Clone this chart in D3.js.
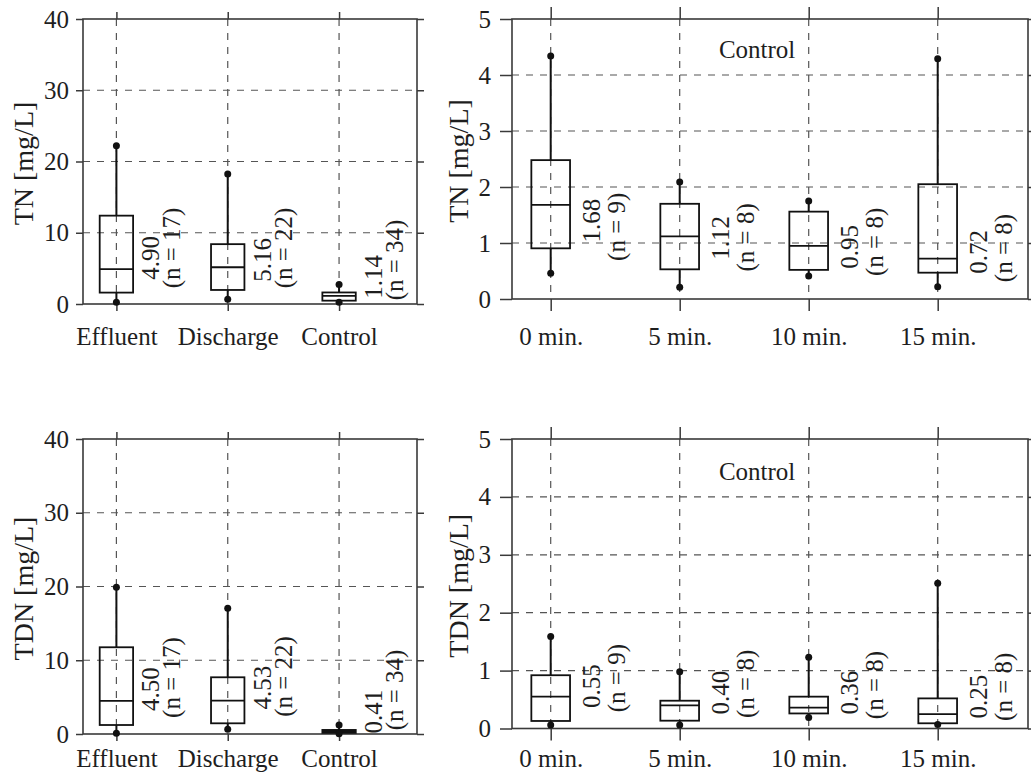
<!DOCTYPE html>
<html>
<head>
<meta charset="utf-8">
<script src="https://cdn.jsdelivr.net/npm/d3@7"></script>
<style>
  html, body { margin: 0; padding: 0; background: #fff; }
  svg { display: block; font-family: "Liberation Serif", "Times New Roman", serif; }
</style>
</head>
<body>
<svg id="chart" width="1031" height="784"></svg>
<script>
// ---------- data ----------
const siteCategories = ["Effluent", "Discharge", "Control"];
const timeCategories = ["0 min.", "5 min.", "10 min.", "15 min."];
const siteYTicks = [0, 10, 20, 30, 40];
const timeYTicks = [0, 1, 2, 3, 4, 5];

// TN by site
const tnSiteMin    = [0.24, 0.65, 0.24];
const tnSiteQ1     = [1.60, 1.97, 0.47];
const tnSiteMedian = [4.90, 5.16, 1.14];
const tnSiteQ3     = [12.4, 8.40, 1.62];
const tnSiteMax    = [22.2, 18.25, 2.72];
const tnSiteN      = [17, 22, 34];
const tnSiteValueLabelAt = [6.46, 6.18, 3.79];
const tnSiteNLabelAt     = [7.86, 7.86, 6.18];

// TN control by time
const tnTimeMin    = [0.46, 0.21, 0.41, 0.22];
const tnTimeQ1     = [0.905, 0.53, 0.52, 0.47];
const tnTimeMedian = [1.68, 1.12, 0.95, 0.72];
const tnTimeQ3     = [2.48, 1.70, 1.56, 2.05];
const tnTimeMax    = [4.34, 2.09, 1.75, 4.29];
const tnTimeN      = [9, 8, 8, 8];
const tnTimeValueLabelAt = [1.40, 1.09, 0.93, 0.84];
const tnTimeNLabelAt     = [1.29, 1.10, 1.02, 0.91];

// TDN by site
const tdnSiteMin    = [0.09, 0.63, 0.02];
const tdnSiteQ1     = [1.22, 1.45, 0.15];
const tdnSiteMedian = [4.50, 4.53, 0.41];
const tdnSiteQ3     = [11.76, 7.69, 0.55];
const tdnSiteMax    = [19.9, 17.04, 1.22];
const tdnSiteN      = [17, 22, 34];
const tdnSiteValueLabelAt = [6.1, 6.3, 3.05];
const tdnSiteNLabelAt     = [7.66, 7.8, 5.97];

// TDN control by time
const tdnTimeMin    = [0.06, 0.06, 0.19, 0.07];
const tdnTimeQ1     = [0.13, 0.135, 0.26, 0.09];
const tdnTimeMedian = [0.55, 0.40, 0.36, 0.25];
const tdnTimeQ3     = [0.92, 0.48, 0.55, 0.52];
const tdnTimeMax    = [1.59, 0.98, 1.23, 2.51];
const tdnTimeN      = [9, 8, 8, 8];
const tdnTimeValueLabelAt = [0.73, 0.62, 0.62, 0.55];
const tdnTimeNLabelAt     = [0.87, 0.77, 0.75, 0.72];

// ---------- drawing ----------
const svg = d3.select("#chart");
const AXIS = "#3a3a3a", GRID = "#555", INK = "#111", TEXT = "#1e1e1e";
const FONT = "'Liberation Serif','Times New Roman',serif";

function panel(cfg) {
  const { left, right, top, bottom, cats, yMax, yTicks, tick, pad, xLabelGap,
          yLabel, yLabelX, title, mins, q1s, meds, q3s, maxs, ns, valAt, nAt } = cfg;
  const n = cats.length;
  const x = d3.scaleLinear().domain([0.7, n + 0.7]).range([left, right]);
  const y = d3.scaleLinear().domain([0, yMax]).range([bottom, top]);
  const g = svg.append("g");
  const idx = d3.range(n);

  // grid
  g.append("g").selectAll("line").data(yTicks.filter(t => t > 0 && t < yMax)).join("line")
    .attr("x1", left).attr("x2", right).attr("y1", d => y(d)).attr("y2", d => y(d))
    .attr("stroke", GRID).attr("stroke-width", 1.2).attr("stroke-dasharray", "7,7");
  g.append("g").selectAll("line").data(idx).join("line")
    .attr("x1", i => x(i + 1)).attr("x2", i => x(i + 1)).attr("y1", top).attr("y2", bottom)
    .attr("stroke", GRID).attr("stroke-width", 1.2).attr("stroke-dasharray", "7,7");

  // axes
  const styleAxis = sel => {
    sel.attr("font-family", FONT).attr("font-size", 25);
    sel.select(".domain").remove();
    sel.selectAll(".tick line").attr("stroke", AXIS).attr("stroke-width", 1.5);
    sel.selectAll(".tick text").attr("fill", TEXT);
  };
  g.append("g").attr("transform", `translate(${left},0)`)
    .call(d3.axisLeft(y).tickValues(yTicks).tickFormat(d3.format("d")).tickSize(tick).tickPadding(pad).tickSizeOuter(0))
    .call(styleAxis);
  g.append("g").attr("transform", `translate(${right},0)`)
    .call(d3.axisRight(y).tickValues(yTicks).tickSize(tick).tickFormat("").tickSizeOuter(0))
    .call(styleAxis);
  g.append("g").attr("transform", `translate(0,${top})`)
    .call(d3.axisTop(x).tickValues(idx.map(i => i + 1)).tickSize(tick).tickFormat("").tickSizeOuter(0))
    .call(styleAxis);
  const xa = g.append("g").attr("transform", `translate(0,${bottom})`)
    .call(d3.axisBottom(x).tickValues(idx.map(i => i + 1)).tickSize(tick)
      .tickFormat((d, i) => cats[i]).tickSizeOuter(0))
    .call(styleAxis);
  xa.selectAll(".tick text").attr("y", xLabelGap).attr("dy", "0");

  // frame
  g.append("rect").attr("x", left).attr("y", top).attr("width", right - left).attr("height", bottom - top)
    .attr("fill", "none").attr("stroke", AXIS).attr("stroke-width", 1.6);

  // y label
  g.append("text").attr("transform", `translate(${yLabelX},${(top + bottom) / 2 + 2}) rotate(-90)`)
    .attr("text-anchor", "middle").attr("fill", TEXT).style("font-size", "28px").text(yLabel);

  if (title) {
    g.append("text").attr("x", x(2.6)).attr("y", y(yMax * 0.86)).attr("text-anchor", "middle")
      .attr("fill", TEXT).style("font-size", "25px").text(title);
  }

  // boxes
  const bw = 0.3;
  const bx = g.append("g");
  idx.forEach(i => {
    const cx = x(i + 1);
    bx.append("line").attr("x1", cx).attr("x2", cx).attr("y1", y(q3s[i])).attr("y2", y(maxs[i]))
      .attr("stroke", INK).attr("stroke-width", 2);
    bx.append("line").attr("x1", cx).attr("x2", cx).attr("y1", y(q1s[i])).attr("y2", y(mins[i]))
      .attr("stroke", INK).attr("stroke-width", 2);
    bx.append("rect").attr("x", x(i + 1 - bw / 2)).attr("width", x(i + 1 + bw / 2) - x(i + 1 - bw / 2))
      .attr("y", y(q3s[i])).attr("height", y(q1s[i]) - y(q3s[i]))
      .attr("fill", "none").attr("stroke", INK).attr("stroke-width", 1.8);
    bx.append("line").attr("x1", x(i + 1 - bw / 2)).attr("x2", x(i + 1 + bw / 2))
      .attr("y1", y(meds[i])).attr("y2", y(meds[i])).attr("stroke", INK).attr("stroke-width", 1.8);
    [maxs[i], mins[i]].forEach(v => bx.append("circle").attr("cx", cx).attr("cy", y(v)).attr("r", 3.5).attr("fill", INK));

    g.append("text").attr("transform", `translate(${x(i + 1 + 0.385)},${y(valAt[i])}) rotate(-90)`)
      .attr("text-anchor", "middle").attr("fill", TEXT).style("font-size", "25px")
      .text(meds[i].toFixed(2));
    g.append("text").attr("transform", `translate(${x(i + 1 + 0.575)},${y(nAt[i])}) rotate(-90)`)
      .attr("text-anchor", "middle").attr("fill", TEXT).style("font-size", "25px")
      .text(`(n = ${ns[i]})`);
  });
}

panel({ left: 83, right: 417, top: 19, bottom: 304, cats: siteCategories, yMax: 40, yTicks: siteYTicks,
  tick: 7, pad: 7, xLabelGap: 41, yLabel: "TN [mg/L]", yLabelX: 33, title: null,
  mins: tnSiteMin, q1s: tnSiteQ1, meds: tnSiteMedian, q3s: tnSiteQ3, maxs: tnSiteMax, ns: tnSiteN,
  valAt: tnSiteValueLabelAt, nAt: tnSiteNLabelAt });

panel({ left: 512, right: 1028, top: 19, bottom: 299, cats: timeCategories, yMax: 5, yTicks: timeYTicks,
  tick: 12, pad: 9, xLabelGap: 46, yLabel: "TN [mg/L]", yLabelX: 468, title: "Control",
  mins: tnTimeMin, q1s: tnTimeQ1, meds: tnTimeMedian, q3s: tnTimeQ3, maxs: tnTimeMax, ns: tnTimeN,
  valAt: tnTimeValueLabelAt, nAt: tnTimeNLabelAt });

panel({ left: 83, right: 417, top: 439, bottom: 734, cats: siteCategories, yMax: 40, yTicks: siteYTicks,
  tick: 7, pad: 7, xLabelGap: 33, yLabel: "TDN [mg/L]", yLabelX: 33, title: null,
  mins: tdnSiteMin, q1s: tdnSiteQ1, meds: tdnSiteMedian, q3s: tdnSiteQ3, maxs: tdnSiteMax, ns: tdnSiteN,
  valAt: tdnSiteValueLabelAt, nAt: tdnSiteNLabelAt });

panel({ left: 512, right: 1028, top: 439, bottom: 728.5, cats: timeCategories, yMax: 5, yTicks: timeYTicks,
  tick: 12, pad: 9, xLabelGap: 38, yLabel: "TDN [mg/L]", yLabelX: 468, title: "Control",
  mins: tdnTimeMin, q1s: tdnTimeQ1, meds: tdnTimeMedian, q3s: tdnTimeQ3, maxs: tdnTimeMax, ns: tdnTimeN,
  valAt: tdnTimeValueLabelAt, nAt: tdnTimeNLabelAt });
</script>
</body>
</html>
